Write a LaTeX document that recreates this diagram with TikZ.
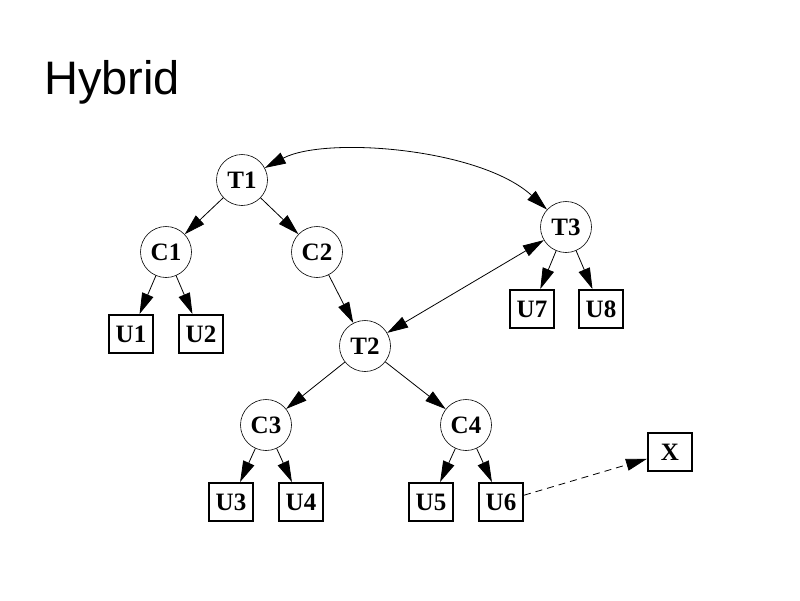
\documentclass[tikz,border=0pt]{standalone}
\usepackage{fontspec}
\setmainfont{Liberation Serif}
\newfontfamily\titlefont{Liberation Sans}
\usetikzlibrary{arrows.meta}
\begin{document}
\begin{tikzpicture}[x=1pt,y=-1pt,
  tnode/.style={circle,draw,line width=0.6pt,minimum size=51pt,inner sep=0pt,font=\fontsize{25}{27}\selectfont\bfseries},
  unode/.style={rectangle,draw,line width=2pt,minimum width=44pt,minimum height=38pt,inner sep=0pt,font=\fontsize{25}{27}\selectfont\bfseries},
  edge/.style={line width=0.8pt,-{Triangle[length=21pt,width=12pt]}},
  biedge/.style={line width=0.8pt,{Triangle[length=21pt,width=12pt]}-{Triangle[length=21pt,width=12pt]}},
  dedge/.style={edge,dash pattern=on 7pt off 5pt}]
\fill[white] (0,0) rectangle (800,600);
\useasboundingbox (0,0) rectangle (800,600);
\node[anchor=base west,inner sep=0pt,font=\titlefont\fontsize{47}{52}\selectfont] (title) at (44,94) {Hybrid};
\node[tnode] (T1) at (242,180) {T1};
\node[tnode] (C1) at (166,252) {C1};
\node[tnode] (C2) at (317,252) {C2};
\node[tnode] (T2) at (365,346) {T2};
\node[tnode] (T3) at (566,227) {T3};
\node[tnode] (C3) at (266,425) {C3};
\node[tnode] (C4) at (466,425) {C4};
\node[unode] (U1) at (131,334) {U1};
\node[unode] (U2) at (201,334) {U2};
\node[unode] (U7) at (532,309) {U7};
\node[unode] (U8) at (601,309) {U8};
\node[unode] (U3) at (231,502) {U3};
\node[unode] (U4) at (301,502) {U4};
\node[unode] (U5) at (431,502) {U5};
\node[unode] (U6) at (501,502) {U6};
\node[unode] (X) at (670,452) {X};
\draw[edge] (T1) -- (C1);
\draw[edge] (T1) -- (C2);
\draw[edge] (C1) -- (U1);
\draw[edge] (C1) -- (U2);
\draw[edge] (C2) -- (T2);
\draw[edge] (T2) -- (C3);
\draw[edge] (T2) -- (C4);
\draw[edge] (C3) -- (U3);
\draw[edge] (C3) -- (U4);
\draw[edge] (C4) -- (U5);
\draw[edge] (C4) -- (U6);
\draw[edge] (T3) -- (U7);
\draw[edge] (T3) -- (U8);
\draw[biedge] (T2) -- (T3);
\draw[biedge] (T1) .. controls (325,136) and (480,148) .. (T3);
\draw[dedge] (U6) -- (X);
\end{tikzpicture}
\end{document}
